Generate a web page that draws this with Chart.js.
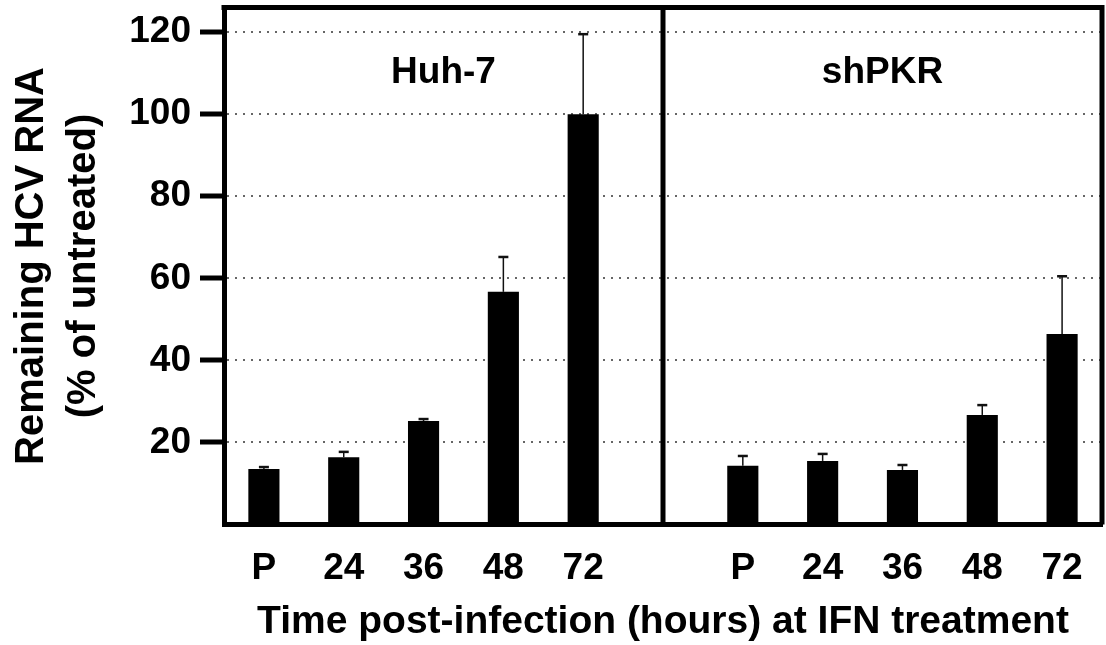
<!DOCTYPE html>
<html>
<head>
<meta charset="utf-8">
<script src="https://cdn.jsdelivr.net/npm/chart.js@4"></script>
<style>
  body { margin: 0; background: #fff; }
  #wrap { width: 1106px; height: 645px; }
</style>
</head>
<body>
<div id="wrap"><canvas id="myChart" width="1106" height="645"></canvas></div>
<script>
// time points for each panel, with an empty slot between the two panels
const timePoints = ['P', '24', '36', '48', '72'];
const panelTitles = ['Huh-7', 'shPKR'];
// bar heights (% of untreated) and top of error bar
const huh7Values = [13.5, 16.4, 25.2, 56.7, 100];
const huh7Upper = [14.0, 17.7, 25.7, 65.2, 119.5];
const shpkrValues = [14.3, 15.5, 13.3, 26.7, 46.4];
const shpkrUpper = [16.7, 17.2, 14.5, 29.1, 60.5];
const yMax = 126;
const yStep = 20;

const labels = [...timePoints, '', ...timePoints];
const values = [...huh7Values, null, ...shpkrValues];
const upper = [...huh7Upper, null, ...shpkrUpper];
const dividerIndex = timePoints.length;

const FONT = "'Liberation Sans', Arial, Helvetica, sans-serif";

/* error bars, frame, divider and panel titles */
const extras = {
    id: 'extras',
    afterDatasetsDraw(chart) {
        const ctx = chart.ctx;
        const y = chart.scales.y;
        const meta = chart.getDatasetMeta(0);
        ctx.save();
        ctx.strokeStyle = '#111';
        meta.data.forEach((bar, i) => {
            if (upper[i] == null) return;
            const yTop = y.getPixelForValue(upper[i]);
            ctx.lineWidth = 1.5;
            ctx.beginPath();
            ctx.moveTo(bar.x, bar.y);
            ctx.lineTo(bar.x, yTop);
            ctx.stroke();
            ctx.lineWidth = 2.5;
            ctx.beginPath();
            ctx.moveTo(bar.x - 5, yTop);
            ctx.lineTo(bar.x + 5, yTop);
            ctx.stroke();
        });
        ctx.restore();
    },
    afterDraw(chart) {
        const ctx = chart.ctx;
        const area = chart.chartArea;
        const x = chart.scales.x;
        const y = chart.scales.y;
        const divX = x.getPixelForValue(dividerIndex);
        ctx.save();
        ctx.strokeStyle = '#000';
        ctx.lineWidth = 5;
        ctx.beginPath();
        ctx.moveTo(area.left - 2.5, area.top);
        ctx.lineTo(area.right, area.top);
        ctx.lineTo(area.right, area.bottom);
        ctx.moveTo(divX, area.top);
        ctx.lineTo(divX, area.bottom);
        ctx.stroke();

        ctx.fillStyle = '#000';
        ctx.font = 'bold 37px ' + FONT;
        ctx.textAlign = 'center';
        ctx.textBaseline = 'alphabetic';
        const ty = y.getPixelForValue(107.5);
        ctx.fillText(panelTitles[0], (area.left + divX) / 2, ty);
        ctx.fillText(panelTitles[1], (divX + area.right) / 2, ty);
        ctx.restore();
    }
};

const chartCtx = document.getElementById('myChart').getContext('2d');
const myChart = new Chart(chartCtx, {
    type: 'bar',
    data: {
        labels: labels,
        datasets: [{
            data: values,
            backgroundColor: '#000',
            borderWidth: 0,
            barPercentage: 0.39,
            categoryPercentage: 1
        }]
    },
    options: {
        responsive: false,
        animation: false,
        layout: {
            padding: { top: 7.5, right: 4, left: 0, bottom: 0 }
        },
        plugins: {
            legend: { display: false },
            tooltip: { enabled: false }
        },
        scales: {
            x: {
                offset: true,
                grid: { display: false, drawTicks: false },
                border: { display: true, width: 5, color: '#000' },
                ticks: {
                    color: '#000',
                    autoSkip: false,
                    maxRotation: 0,
                    padding: 22,
                    font: { family: FONT, size: 37, weight: 'bold' }
                },
                title: {
                    display: true,
                    text: 'Time post-infection (hours) at IFN treatment',
                    color: '#000',
                    font: { family: FONT, size: 39, weight: 'bold', lineHeight: '44px' },
                    padding: { top: 0, bottom: 1 }
                },
                afterFit(scale) {
                    scale.height = 120.5;
                    scale.paddingLeft = 0;
                    scale.paddingRight = 0;
                }
            },
            y: {
                min: 0,
                max: yMax,
                border: { display: true, width: 5, color: '#000', dash: [2, 6] },
                grid: {
                    lineWidth: 2,
                    color: (c) => (c.tick && c.tick.value === 0) ? 'rgba(0,0,0,0)' : '#666',
                    tickColor: (c) => (c.tick && c.tick.value === 0) ? 'rgba(0,0,0,0)' : '#000',
                    tickWidth: 5,
                    tickLength: 24,
                    tickBorderDash: []
                },
                ticks: {
                    stepSize: yStep,
                    includeBounds: false,
                    color: '#000',
                    padding: 9,
                    font: { family: FONT, size: 37, weight: 'bold' },
                    callback: (v) => v === 0 ? '' : v
                },
                title: {
                    display: true,
                    text: ['Remaining HCV RNA', '(% of untreated)'],
                    color: '#000',
                    font: { family: FONT, size: 40, weight: 'bold', lineHeight: '52px' },
                    padding: { top: 6, bottom: 0 }
                },
                afterFit(scale) {
                    scale.width = 224;
                    scale.paddingTop = 0;
                    scale.paddingBottom = 0;
                }
            }
        }
    },
    plugins: [extras]
});
</script>
</body>
</html>
